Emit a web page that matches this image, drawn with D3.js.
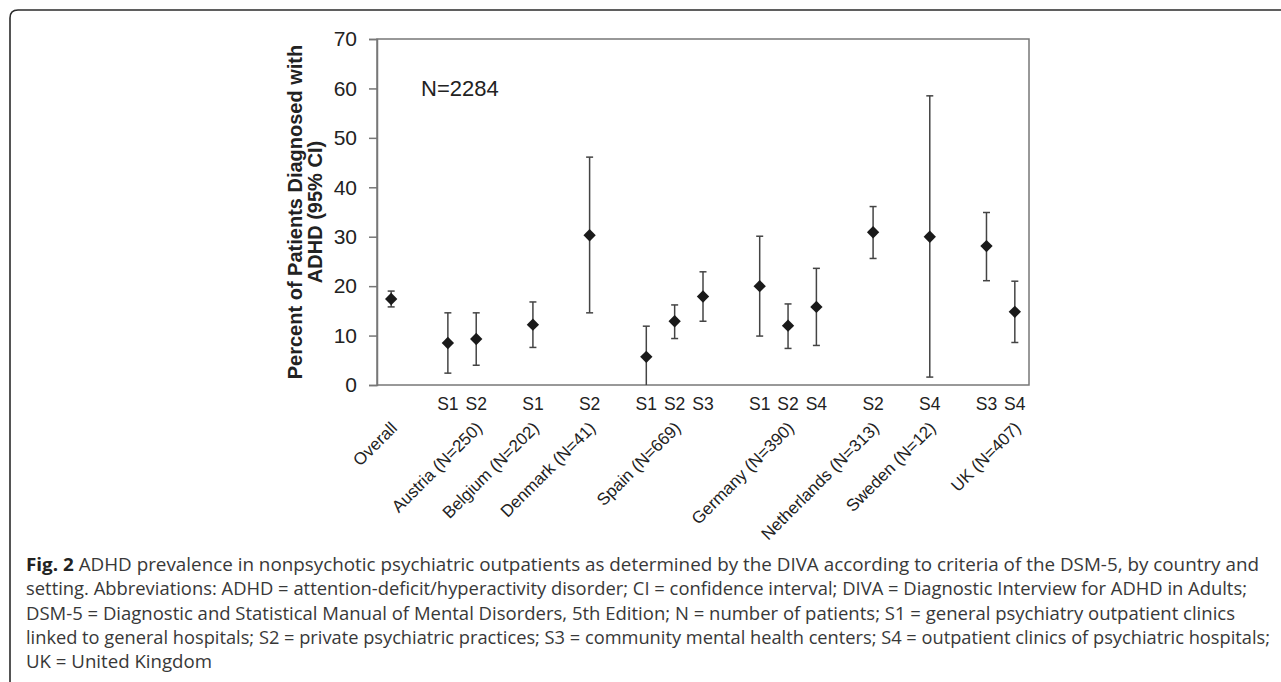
<!DOCTYPE html>
<html>
<head>
<meta charset="utf-8">
<script src="https://cdn.jsdelivr.net/npm/d3@7"></script>
<style>
  body { margin: 0; background: #fff; }
  .tickLabel { font-family: "Liberation Sans", Arial, sans-serif; font-size: 21px; fill: #222; }
  .axisTitle { font-family: "Liberation Sans", Arial, sans-serif; font-size: 20px; font-weight: bold; fill: #222; }
  .settingLabel { font-family: "Liberation Sans", Arial, sans-serif; font-size: 17.5px; fill: #222; }
  .countryLabel { font-family: "Liberation Sans", Arial, sans-serif; font-size: 17px; fill: #222; }
  .note { font-family: "Liberation Sans", Arial, sans-serif; font-size: 22px; fill: #222; }
  .caption { font-family: "Open Sans", "Noto Sans", sans-serif; font-size: 18px; fill: #383838; }
</style>
</head>
<body>
<div id="chart"></div>
<script>
// groups along the x axis (one empty slot is left between groups)
var groups = ["Overall", "Austria (N=250)", "Belgium (N=202)", "Denmark (N=41)", "Spain (N=669)",
    "Germany (N=390)", "Netherlands (N=313)", "Sweden (N=12)", "UK (N=407)"];

// one entry per estimate
var pointGroup = ["Overall", "Austria (N=250)", "Austria (N=250)", "Belgium (N=202)", "Denmark (N=41)",
    "Spain (N=669)", "Spain (N=669)", "Spain (N=669)", "Germany (N=390)", "Germany (N=390)", "Germany (N=390)",
    "Netherlands (N=313)", "Sweden (N=12)", "UK (N=407)", "UK (N=407)"];
var pointSetting = ["", "S1", "S2", "S1", "S2", "S1", "S2", "S3", "S1", "S2", "S4", "S2", "S4", "S3", "S4"];
var prevalence = [17.4, 8.5, 9.3, 12.2, 30.3, 5.7, 12.9, 17.9, 20.0, 12.0, 15.8, 30.9, 30.0, 28.1, 14.8];
var ciLow  = [15.8, 2.4, 4.0, 7.6, 14.6, 0.0, 9.4, 12.9, 9.9, 7.4, 8.0, 25.6, 1.6, 21.1, 8.6];
var ciHigh = [19.0, 14.6, 14.6, 16.8, 46.1, 11.9, 16.2, 22.9, 30.1, 16.4, 23.6, 36.1, 58.5, 34.9, 21.0];

var yTicks = [0, 10, 20, 30, 40, 50, 60, 70];

var captionLines = [
    " ADHD prevalence in nonpsychotic psychiatric outpatients as determined by the DIVA according to criteria of the DSM-5, by country and",
    "setting. Abbreviations: ADHD = attention-deficit/hyperactivity disorder; CI = confidence interval; DIVA = Diagnostic Interview for ADHD in Adults;",
    "DSM-5 = Diagnostic and Statistical Manual of Mental Disorders, 5th Edition; N = number of patients; S1 = general psychiatry outpatient clinics",
    "linked to general hospitals; S2 = private psychiatric practices; S3 = community mental health centers; S4 = outpatient clinics of psychiatric hospitals;",
    "UK = United Kingdom"
];
var captionWidths = [1233, 1221, 1209, 1244, 186];

/**
 * Constructor for the prevalence chart
 */
function PrevalenceChart(){
    var self = this;
    self.init();
};

PrevalenceChart.prototype.init = function(){
    var self = this;
    self.width = 1281;
    self.height = 682;
    self.plot = {left: 377, right: 1029, top: 39, bottom: 385};

    self.svg = d3.select("#chart").append("svg")
        .attr("width", self.width)
        .attr("height", self.height);
};

PrevalenceChart.prototype.update = function(){
    var self = this;
    var p = self.plot;

    // data rows
    var data = prevalence.map(function(v, i){
        return {key: pointGroup[i] + "|" + pointSetting[i], group: pointGroup[i], setting: pointSetting[i],
            value: v, low: ciLow[i], high: ciHigh[i]};
    });

    // slot keys: points of each group, then a spacer
    var slots = [];
    groups.forEach(function(g, gi){
        data.filter(function(d){ return d.group == g; }).forEach(function(d){ slots.push(d.key); });
        if (gi < groups.length - 1) slots.push("gap" + gi);
    });

    var xScale = d3.scaleBand().domain(slots).range([p.left, p.right]).padding(0);
    var yScale = d3.scaleLinear().domain([0, 70]).range([p.bottom, p.top]);
    var cx = function(key){ return xScale(key) + xScale.bandwidth() / 2; };

    // figure frame
    self.svg.append("path")
        .attr("d", "M10,700 V18 Q10,10 18,10 H1290")
        .attr("fill", "none")
        .attr("stroke", "#2b2b2b")
        .attr("stroke-width", 1.6);

    // plot box
    self.svg.append("rect")
        .attr("x", p.left).attr("y", p.top)
        .attr("width", p.right - p.left).attr("height", p.bottom - p.top)
        .attr("fill", "none")
        .attr("stroke", "#777")
        .attr("stroke-width", 1.5);

    // y axis
    var yAxis = d3.axisLeft(yScale).tickValues(yTicks).tickSize(8).tickPadding(12);
    var gy = self.svg.append("g").attr("transform", "translate(" + p.left + ",0)").call(yAxis);
    gy.select(".domain").attr("stroke", "#777").attr("stroke-width", 1.5);
    gy.selectAll(".tick line").attr("stroke", "#777").attr("stroke-width", 1.5);
    gy.selectAll(".tick text").attr("class", "tickLabel").attr("font-size", null).attr("font-family", null);

    // axis title
    var title = self.svg.append("text")
        .attr("class", "axisTitle")
        .attr("transform", "translate(0," + ((p.top + p.bottom) / 2) + ") rotate(-90)")
        .attr("text-anchor", "middle");
    title.append("tspan").attr("x", 0).attr("y", 302).text("Percent of Patients Diagnosed with");
    title.append("tspan").attr("x", 0).attr("y", 322).text("ADHD (95% CI)");

    // sample size note
    self.svg.append("text")
        .attr("class", "note")
        .attr("x", 421).attr("y", 96)
        .text("N=2284");

    // error bars
    var bars = self.svg.selectAll("g.bar").data(data).enter().append("g").attr("class", "bar");
    bars.append("line")
        .attr("x1", function(d){ return cx(d.key); })
        .attr("x2", function(d){ return cx(d.key); })
        .attr("y1", function(d){ return yScale(d.low); })
        .attr("y2", function(d){ return yScale(d.high); })
        .attr("stroke", "#444").attr("stroke-width", 1.5);
    bars.filter(function(d){ return d.low > 0; }).append("line")
        .attr("x1", function(d){ return cx(d.key) - 3.5; })
        .attr("x2", function(d){ return cx(d.key) + 3.5; })
        .attr("y1", function(d){ return yScale(d.low); })
        .attr("y2", function(d){ return yScale(d.low); })
        .attr("stroke", "#444").attr("stroke-width", 1.5);
    bars.append("line")
        .attr("x1", function(d){ return cx(d.key) - 3.5; })
        .attr("x2", function(d){ return cx(d.key) + 3.5; })
        .attr("y1", function(d){ return yScale(d.high); })
        .attr("y2", function(d){ return yScale(d.high); })
        .attr("stroke", "#444").attr("stroke-width", 1.5);

    // diamond markers
    var diamond = d3.symbol().type(d3.symbolSquare).size(76);
    bars.append("path")
        .attr("d", diamond)
        .attr("transform", function(d){ return "translate(" + cx(d.key) + "," + yScale(d.value) + ") rotate(45)"; })
        .attr("fill", "#1a1a1a");

    // setting labels
    self.svg.selectAll("text.settingLabel").data(data.filter(function(d){ return d.setting != ""; }))
        .enter().append("text")
        .attr("class", "settingLabel")
        .attr("x", function(d){ return cx(d.key); })
        .attr("y", 410)
        .attr("text-anchor", "middle")
        .text(function(d){ return d.setting; });

    // country labels, anchored at the middle point of each group
    self.svg.selectAll("text.countryLabel").data(groups)
        .enter().append("text")
        .attr("class", "countryLabel")
        .attr("text-anchor", "end")
        .attr("transform", function(g){
            var keys = data.filter(function(d){ return d.group == g; }).map(function(d){ return d.key; });
            var k = keys[Math.floor(keys.length / 2)];
            return "translate(" + (cx(k) + 7) + ",429) rotate(-45)";
        })
        .text(function(g){ return g; });

    // caption
    captionLines.forEach(function(line, i){
        var t = self.svg.append("text")
            .attr("class", "caption")
            .attr("x", 26)
            .attr("y", 571 + i * 24.3)
            .attr("textLength", captionWidths[i])
            .attr("lengthAdjust", "spacingAndGlyphs");
        if (i == 0) t.append("tspan").attr("font-weight", "bold").attr("fill", "#222").text("Fig. 2");
        t.append("tspan").text(line);
    });
};

var chart = new PrevalenceChart();
chart.update();
</script>
</body>
</html>
